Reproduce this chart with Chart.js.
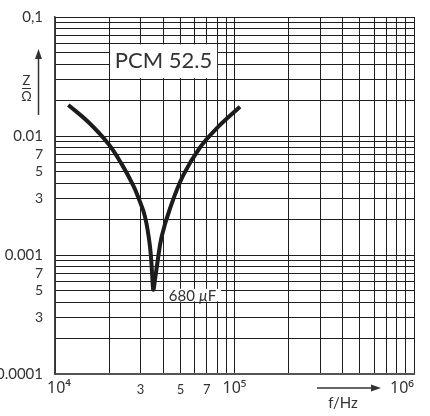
<!DOCTYPE html>
<html>
<head>
<meta charset="utf-8">
<script src="https://cdn.jsdelivr.net/npm/chart.js@4.4.1/dist/chart.umd.min.js"></script>
<style>
  html, body { margin: 0; background: #fff; }
  canvas { display: block; }
</style>
</head>
<body>
<canvas id="chart" width="430" height="416"></canvas>
<script>
// impedance curve (f in Hz, Z in ohm)
const FREQ_HZ = [11860, 15330, 19810, 23530, 27310, 29120, 31720, 33820, 34830, 35280,
                 36060, 37150, 39300, 43720, 51850, 64240, 79590, 107300];
const Z_OHM   = [0.0182, 0.0131, 0.0086, 0.0058, 0.00383, 0.00304, 0.0021, 0.00118, 0.00066, 0.00051,
                 0.00062, 0.00085, 0.00143, 0.00246, 0.00468, 0.0080, 0.0116, 0.0176];

const X_GRID = [1e4, 2e4, 3e4, 4e4, 5e4, 6e4, 7e4, 8e4, 9e4,
                1e5, 2e5, 3e5, 4e5, 5e5, 6e5, 7e5, 8e5, 9e5, 1e6];
const X_TICKS  = [1e4, 3e4, 5e4, 7e4, 1e5, 1e6];
const X_LABELS = ['\u200210⁴', '3', '5', '7', '10⁵', '10⁶\u2003\u2002'];
const X_MAJOR  = [1e4, 1e5, 1e6];

const Y_GRID = [0.0001, 0.0002, 0.0003, 0.0004, 0.0005, 0.0006, 0.0007, 0.0008, 0.0009,
                0.001, 0.002, 0.003, 0.004, 0.005, 0.006, 0.007, 0.008, 0.009,
                0.01, 0.02, 0.03, 0.04, 0.05, 0.06, 0.07, 0.08, 0.09, 0.1];
const Y_TICKS  = [0.0001, 0.0003, 0.0005, 0.0007, 0.001, 0.003, 0.005, 0.007, 0.01, 0.1];
const Y_LABELS = ['0.0001', '3', '5', '7', '0.001', '3', '5', '7', '0.01', '0,1'];
const Y_MAJOR  = [0.0001, 0.001, 0.01, 0.1];

const TYPE_LABEL = 'PCM 52.5';
const CAP_LABEL  = ['680 ', 'µ', 'F'];

const FONT = 'Lato, "Noto Sans", sans-serif';
const SUP_FONT = '"Noto Sans", Lato, sans-serif';
const INK = '#333';

function labelFor(ticks, labels, v) {
  const i = ticks.indexOf(v);
  return i < 0 ? '' : labels[i];
}

const decor = {
  id: 'decor',
  beforeDatasetsDraw(chart) {
    const { ctx, scales: { x, y } } = chart;
    ctx.save();
    ctx.fillStyle = '#fff';
    // PCM 52.5 box
    const l1 = x.getPixelForValue(2e4) + 1, r1 = x.getPixelForValue(8e4);
    const t1 = y.getPixelForValue(0.06) + 1, b1 = y.getPixelForValue(0.03) - 1;
    ctx.fillRect(l1, t1, r1 - l1, b1 - t1);
    ctx.fillStyle = INK;
    ctx.font = '22px ' + FONT;
    ctx.textAlign = 'center';
    ctx.textBaseline = 'middle';
    ctx.fillText(TYPE_LABEL, (l1 + r1) / 2, (t1 + b1) / 2);

    // 680 µF box
    const l2 = x.getPixelForValue(4e4) + 1, r2 = x.getPixelForValue(8.4e4);
    const t2 = y.getPixelForValue(0.00052), b2 = y.getPixelForValue(0.00040) - 1;
    ctx.fillStyle = '#fff';
    ctx.fillRect(l2, t2, r2 - l2, b2 - t2);
    ctx.fillStyle = INK;
    ctx.textAlign = 'left';
    const parts = [['15px ' + FONT, CAP_LABEL[0]], ['italic 15px ' + FONT, CAP_LABEL[1]], ['15px ' + FONT, CAP_LABEL[2]]];
    let w = 0;
    parts.forEach(p => { ctx.font = p[0]; w += ctx.measureText(p[1]).width; });
    let cx = (l2 + r2) / 2 - w / 2;
    const cy = (t2 + b2) / 2 + 1;
    parts.forEach(p => { ctx.font = p[0]; ctx.fillText(p[1], cx, cy); cx += ctx.measureText(p[1]).width; });
    ctx.restore();
  },
  afterDraw(chart) {
    const { ctx } = chart;
    ctx.save();
    ctx.strokeStyle = '#333';
    ctx.fillStyle = '#333';
    ctx.lineWidth = 1.5;
    // y axis arrow
    ctx.beginPath(); ctx.moveTo(38.5, 115); ctx.lineTo(38.5, 56); ctx.stroke();
    ctx.beginPath(); ctx.moveTo(38.5, 49); ctx.lineTo(35, 59); ctx.lineTo(42, 59); ctx.closePath(); ctx.fill();
    // x axis arrow
    ctx.beginPath(); ctx.moveTo(317, 388); ctx.lineTo(373, 388); ctx.stroke();
    ctx.beginPath(); ctx.moveTo(381, 388); ctx.lineTo(371, 384.5); ctx.lineTo(371, 391.5); ctx.closePath(); ctx.fill();
    // Z / Ω
    ctx.font = '13px ' + FONT;
    ctx.textAlign = 'center';
    ctx.textBaseline = 'middle';
    ctx.fillText('Z', 26.5, 81);
    ctx.lineWidth = 1;
    ctx.beginPath(); ctx.moveTo(22, 88.5); ctx.lineTo(31, 88.5); ctx.stroke();
    ctx.fillText('Ω', 26.5, 97);
    // f/Hz
    ctx.font = '15px ' + FONT;
    ctx.fillText('f/Hz', 343, 403);
    ctx.restore();
  }
};

new Chart(document.getElementById('chart'), {
  type: 'line',
  data: {
    datasets: [{
      data: FREQ_HZ.map((f, i) => ({ x: f, y: Z_OHM[i] })),
      borderColor: '#1c1c1c',
      borderWidth: 4,
      pointRadius: 0,
      tension: 0.4,
      fill: false
    }]
  },
  options: {
    responsive: false,
    animation: false,
    layout: { padding: { top: 17, right: 16, left: 0, bottom: 0 } },
    plugins: { legend: { display: false }, tooltip: { enabled: false } },
    scales: {
      x: {
        type: 'logarithmic',
        min: 1e4, max: 1e6,
        afterBuildTicks: s => { s.ticks = X_GRID.map(v => ({ value: v, major: X_MAJOR.includes(v) })); },
        afterFit: s => { s.height = 42; s.paddingLeft = 0; s.paddingRight = 0; },
        grid: { color: '#1e1e1e', lineWidth: 1, drawTicks: false },
        border: { color: '#555', width: 2 },
        ticks: {
          autoSkip: false,
          maxRotation: 0,
          padding: 5,
          color: INK,
          font: c => X_MAJOR.includes(c.tick && c.tick.value)
            ? { family: SUP_FONT, size: 16, lineHeight: '18px' }
            : { family: FONT, size: 13, lineHeight: '21px' },
          callback: v => labelFor(X_TICKS, X_LABELS, v)
        }
      },
      y: {
        type: 'logarithmic',
        min: 0.0001, max: 0.1,
        afterBuildTicks: s => { s.ticks = Y_GRID.map(v => ({ value: v, major: Y_MAJOR.includes(v) })); },
        afterFit: s => { s.width = 55; s.paddingTop = 0; s.paddingBottom = 0; },
        grid: { color: '#1e1e1e', lineWidth: 1, drawTicks: false },
        border: { color: '#444', width: 1.5 },
        ticks: {
          autoSkip: false,
          padding: 12,
          color: INK,
          font: c => Y_MAJOR.includes(c.tick && c.tick.value)
            ? { family: FONT, size: 15 }
            : { family: FONT, size: 14 },
          callback: v => labelFor(Y_TICKS, Y_LABELS, v)
        }
      }
    }
  },
  plugins: [decor]
});
</script>
</body>
</html>
